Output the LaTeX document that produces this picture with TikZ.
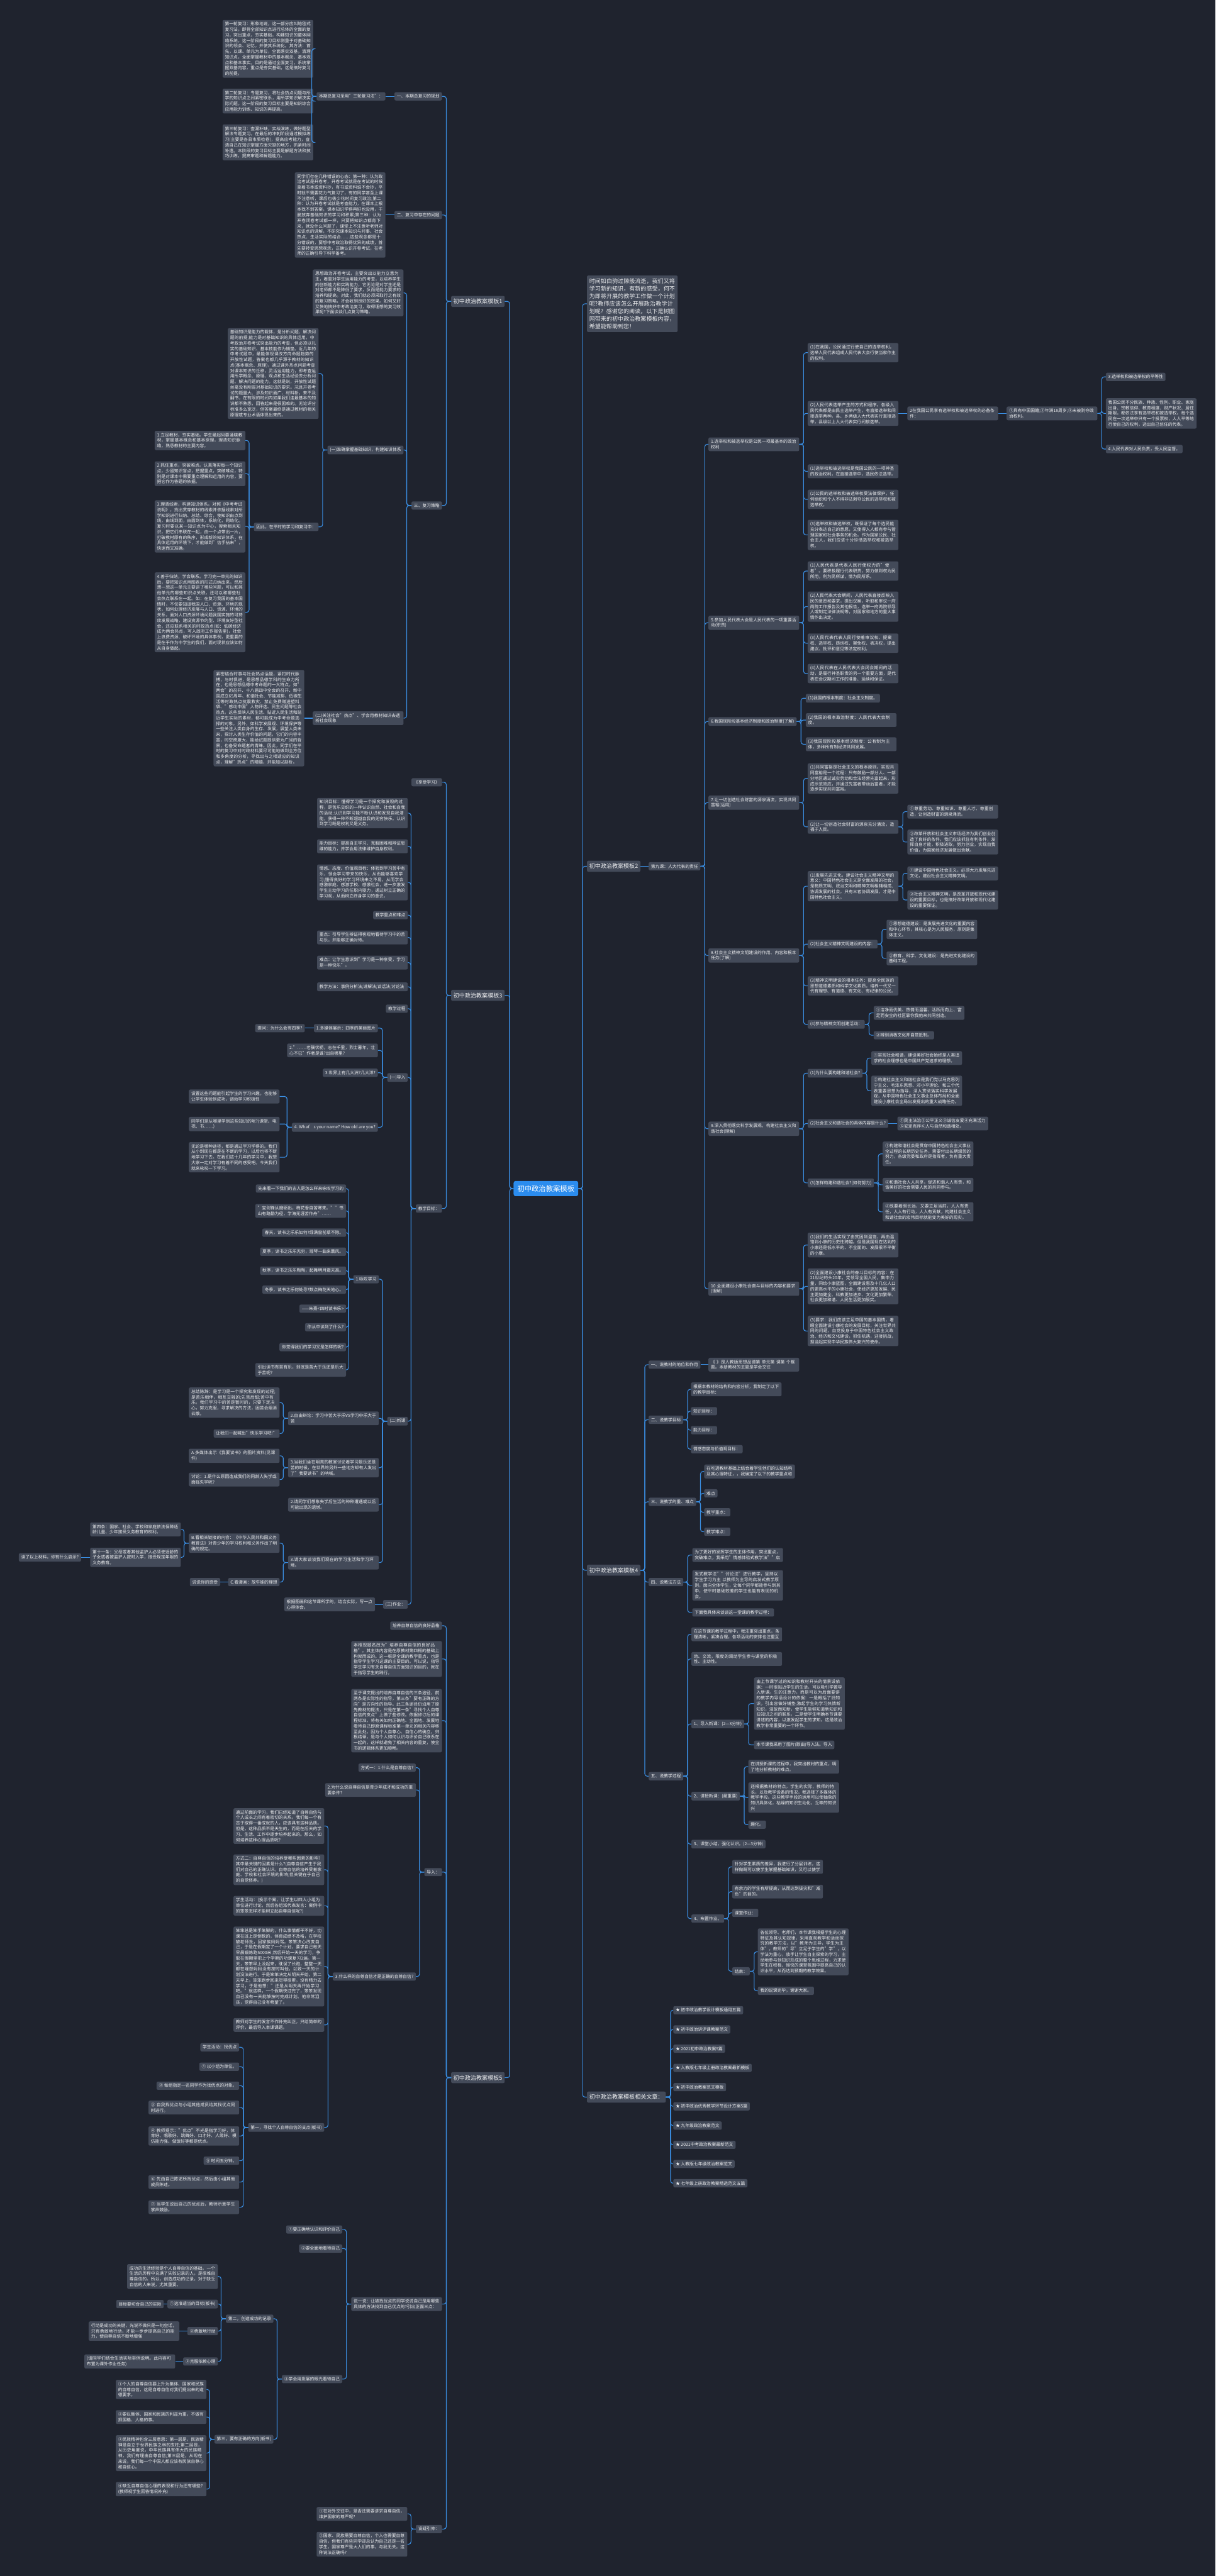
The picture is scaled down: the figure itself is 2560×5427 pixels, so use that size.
\documentclass[tikz,border=0pt]{standalone}
\usepackage{fontspec}
\setmainfont{Noto Sans CJK SC}
\XeTeXlinebreaklocale "zh"
\XeTeXlinebreakskip=0pt plus 1pt
\definecolor{bgc}{HTML}{1F232E}
\definecolor{boxc}{HTML}{434A59}
\definecolor{linkc}{HTML}{3A8EE2}
\definecolor{rootc}{HTML}{2B8CEE}
\definecolor{txtc}{HTML}{ECEDEF}
\begin{document}
\begin{tikzpicture}[x=1pt,y=-1pt,
    box/.style={fill=boxc, rounded corners=3pt, text=txtc,
      font=\fontsize{9}{11.6}\selectfont, inner xsep=5pt, inner ysep=4.5pt},
    para/.style={box, text width=181pt, align=left},
    big/.style={box, font=\fontsize{12}{16}\selectfont, inner ysep=6pt},
    root/.style={box, fill=rootc, text=white, font=\fontsize{15}{18}\selectfont,
      inner xsep=8pt, inner ysep=9pt, rounded corners=4pt},
    lnk/.style={draw=linkc, line width=1.5pt, rounded corners=5pt},
    L/.style={anchor=east}, R/.style={anchor=west}
  ]
\fill[bgc] (0,0) rectangle (2560,5427);
\useasboundingbox (0,0) rectangle (2560,5427);

\node[root,L] (root) at (1218,2504) {初中政治教案模板};
\node[big,R,text width=181pt,align=left] (intro) at (1236,640) {时间如白驹过隙般流逝，我们又将学习新的知识，有新的感受，何不为即将开展的教学工作做一个计划呢?教师应该怎么开展政治教学计划呢? 感谢您的阅读，以下是树图网带来的初中政治教案模板内容，希望能帮助到您！};
\node[big,R] (mB) at (1236,1825) {初中政治教案模板2};
\node[big,R] (mD) at (1236,3308) {初中政治教案模板4};
\node[big,R] (mF) at (1236,4418) {初中政治教案模板相关文章：};
\node[big,R] (mA) at (950,635) {初中政治教案模板1};
\node[big,R] (mC) at (950,2097) {初中政治教案模板3};
\node[big,R] (mE) at (950,4377) {初中政治教案模板5};

\node[box,L] (a1) at (931,203) {一、本期总复习的规划};
\node[box,L] (a1x) at (812,203) {本期总复习采用"三轮复习法"：};
\node[para,L] (a1x1) at (660,103) {第一轮复习：形象地说，这一部分应叫地毯式复习法，即将全部知识点进行总体的全面的复习，突出重点，夯实基础，构建知识的整体网络系统。这一阶段的复习目标侧重于对基础知识的领会、记忆，并使其系统化。其方法：首先，以课、单元为单位，全面落实双基，清理知识点，全面掌握教材中的基本概念、基本观点和基本事实。目的是通过全面复习，系统掌握双基内容，重点是夯实基础，这是搞好复习的前提。};
\node[para,L] (a1x2) at (660,213) {第二轮复习：专题复习，将社会热点问题与所学的知识点之间紧密联系，用所学知识解决实际问题。这一阶段的复习目标主要是知识综合应用能力训练、知识的再提高。};
\node[para,L] (a1x3) at (660,300) {第三轮复习：查漏补缺，实战演练，做好题型解法专题复习。在最后的冲刺阶段通过模拟练习(主要是各县市质检卷)，提高应考能力，查清自己在知识掌握方面欠缺的地方，抓紧时间补遗。本阶段的复习目标主要是解题方法和技巧训练，提高审题和解题能力。};
\node[box,L] (a2) at (931,453) {二、复习中存在的问题};
\node[para,L] (a2x) at (812,453) {同学们存在几种错误的心态：第一种：认为政治考试是开卷考，开卷考试就是在考试的时候拿着书本或资料抄，有书或资料谁不会抄，平时就不需要花力气复习了，有的同学甚至上课不注意听，课后也极少花时间复习政治;第二种：认为开卷考试就是考查能力，在课本上根本找不到答案，课本知识学得再好也没用，干脆放弃基础知识的学习和积累;第三种：认为开卷闭卷考试都一样，只要把知识点都背下来，就没什么问题了，课堂上不注意听老师对知识点的讲解，不研究课本知识与时事、社会热点、生活实际的结合……这些观念都是十分错误的，要想中考政治取得优异的成绩，首先要转变思想观念，正确认识开卷考试，在老师的正确引导下科学备考。};
\node[box,L] (a3) at (931,1065) {三、复习策略};
\node[para,L] (a3a) at (850,617) {思想政治开卷考试，主要突出以能力立意为主，着重对学生运用能力的考查，以培养学生的创新能力和实践能力，它无论是对学生还是对老师都不是降低了要求，反而是能力要求的培养和提高。对此，我们就必须采取行之有效的复习策略，才会收到良好的效果。如何又好又快地搞好中考政治复习，取得理想的复习效果呢?下面谈谈几点复习策略。};
\node[box,L] (a3b) at (850,948) {(一)准确掌握基础知识，构建知识体系};
\node[para,L] (a3b1) at (671,787) {基础知识是能力的载体，是分析问题、解决问题的前提;能力是对基础知识的具体运用。中考政治开卷考试突出能力的考查，但必须以扎实的基础知识、基本技能作为铺垫。近几年的中考试题中，最能体现课改方向命题趋势的开放性试题，答案也都几乎源于教材的知识点(基本概念、原理)，通过课外热点问题考查对课本知识的迁移，灵活运用能力，即考查运用所学概念、原理、观点和生活经验去分析问题、解决问题的能力。这就是说，开放性试题丝毫没有削弱对基础知识的要求。况且开卷考试的题量大、涉及知识面广、材料新，来不及翻书，在有限的时间内如果我们连最基本的知识都不熟悉，回答起来是很困难的。无论评分标准多么宽泛，但答案最终是通过教材的相关原理或专业术语体现出来的。};
\node[box,L] (a3b2) at (671,1110) {因此，在平时的学习和复习中：};
\node[para,L] (a3b2a) at (517,928) {1.立足教材，夯实基础。学生最起码要通晓教材，掌握基本概念和基本原理，理清知识脉络，熟悉教材的主要内容。};
\node[para,L] (a3b2b) at (517,998) {2.抓住重点，突破难点。认真落实每一个知识点，少留知识盲点，把握重点，突破难点，特别是对课本中需要重点理解和运用的内容，要把它作为答题的依据。};
\node[para,L] (a3b2c) at (517,1109) {3.理清线索，构建知识体系。对照《中考考试说明》，找出贯穿教材的线索并依据线索对所学知识进行归纳、总结、综合，使知识由点到线，由线到面，由面到体，系统化，网络化。复习时要以某一知识点为中心，搜索相关知识，把它们串联在一起，由一个点带出一片，打破教材原有的秩序，形成新的知识体系，在具体运用的环境下，才能做到"信手拈来"，快速而又准确。};
\node[para,L] (a3b2d) at (517,1290) {4.善于归纳，学会联系。学习完一单元的知识后，要把知识点用图表的形式归纳出来，然后想一想这一单元主要讲了哪些问题，可以和其他单元的哪些知识点关联，还可以和哪些社会热点联系在一起。如：在复习我国的基本国情时，不仅要知道我国人口、资源、环境的现状，如何处理经济发展与人口、资源、环境的关系，面对人口资源环境问题我国实施的可持续发展战略，建设资源节约型、环境友好型社会，还应联系相关的时政热点(如：低碳经济成为两会热点，写入政府工作报告里)，社会上浪费资源、破坏环境的具体事例，更重要的是在于作为中学生的我们，面对现状应该如何从自身做起。};
\node[para,L] (a3c) at (850,1513) {(二)关注社会"热点"、学会用教材知识去透析社会现象};
\node[para,L] (a3c1) at (641,1513) {紧密结合时事与社会热点话题，紧扣时代脉搏，与时俱进，是思想品德学科的生命力所在，也是思想品德中考命题的一大特点。如"两会"的召开、十八届四中全会的召开、新中国成立65周年、和谐社会、节能减排、低碳生活等时政热点抗震救灾、禁止免费赠送塑料袋、"感动中国"人物评选、民生问题等社会热点。这些反映人民生活、贴近人民生活和贴近学生实际的素材，都可能成为中考命题选择的对象。另外，如科学发展观、环境保护等一些关注人类自身的生存、发展，展望人类未来，探讨人类生存价值的问题，它们的内容丰富，时空跨度大，能给试题提供更为广阔的背景，也备受命题者的青睐。因此，同学们在平时的复习中对时政材料要尽可能地做到全方位和多角度的分析，寻找出与之相适应的知识点，理解"热点"的精髓，并能加以剖析。};

\node[box,L] (c1) at (931,1648) {《享受学习》};
\node[box,L] (c2) at (931,2546) {教学目标：};
\node[para,L] (c2a) at (859,1713) {知识目标：懂得学习是一个探究和发现的过程，是苦乐交织的一种认识自然、社会和自我的活动;认识到学习能不断认识和发现自我潜能，获得一种不断超越自我的无穷快乐。认识到学习既是权利又是义务。};
\node[para,L] (c2b) at (859,1783) {能力目标：提高自主学习、克服困难和辨证思维的能力，并学会用法律维护自身权利。};
\node[para,L] (c2c) at (859,1859) {情感、态度、价值观目标：体验到学习苦中有乐，领会学习带来的快乐，从而能够喜欢学习;懂得良好的学习环境来之不易，从而学会感激家庭、感激学校、感激社会，进一步激发学生主动学习的任职内驱力，通过树立正确的学习观，从而树立终身学习的意识。};
\node[box,L] (c2d) at (859,1928) {教学重点和难点};
\node[para,L] (c2e) at (859,1975) {重点：引导学生辨证得客观地看待学习中的苦与乐，并能够正确对待。};
\node[para,L] (c2f) at (859,2028) {难点：让学生意识到"学习是一种享受，学习是一种快乐"。};
\node[para,L] (c2g) at (859,2079) {教学方法：事例分析法;讲解法;谈话法;讨论法};
\node[box,L] (c2h) at (859,2125) {教学过程};
\node[box,L] (c2i) at (859,2270) {(一)导入};
\node[box,L] (c2i1) at (796,2166) {1.多媒体展示：四季的美丽图片};
\node[box,L] (c2i1a) at (642,2166) {提问：为什么会有四季?};
\node[para,L] (c2i2) at (796,2213) {2."……老骥伏枥，志在千里，烈士暮年，壮心不已"作者是谁?出自哪里?};
\node[box,L] (c2i3) at (796,2260) {3.世界上有几大洲?几大洋?};
\node[box,L] (c2i4) at (796,2375) {4. What’s your name? How old are you?};
\node[para,L] (c2i4a) at (589,2310) {设置这些问题能引起学生的学习兴趣，也能够让学生体验到成功，调动学习积极性};
\node[para,L] (c2i4b) at (589,2368) {同学们是从哪里学到这些知识的呢?(课堂、电视、书……)};
\node[para,L] (c2i4c) at (589,2438) {无论是哪种途径，都是通过学习学得的。我们从小到现在都是在不断的学习，以后也将不断地学习下去。在我们这十几年的学习中，我想大家一定对学习有着不同的感受吧。今天我们就来咏叹一下学习。};
\node[box,L] (c2j) at (859,2994) {(二)新课};
\node[box,L] (c2j1) at (798,2695) {1.咏叹学习};
\node[box,L] (w1) at (729,2504) {先来看一下我们的古人是怎么样来咏叹学习的};
\node[para,L] (w2) at (729,2551) {"宝剑锋从磨砺出，梅花香自苦寒来。""书山有路勤为径，学海无涯苦作舟"……};
\node[box,L] (w3) at (729,2597) {春天，读书之乐乐如何?绿满窗前草不除。};
\node[box,L] (w4) at (729,2637) {夏季，读书之乐乐无穷，瑶琴一曲来薰风。};
\node[box,L] (w5) at (729,2677) {秋季，读书之乐乐陶陶，起舞明月霜天高。};
\node[box,L] (w6) at (729,2717) {冬季，读书之乐何处寻?数点梅花天地心。};
\node[box,L] (w7) at (729,2757) {——朱熹<四时读书乐>};
\node[box,L] (w8) at (729,2796) {你从中读到了什么?};
\node[box,L] (w9) at (729,2838) {你觉得我们的学习又是怎样的呢?};
\node[para,L] (w10) at (729,2886) {引出读书有苦有乐，到底是苦大于乐还是乐大于苦呢?};
\node[para,L] (c2j2) at (798,2988) {2.自由辩论：学习中苦大于乐VS学习中乐大于苦};
\node[para,L] (c2j2a) at (589,2955) {总结陈辞：是学习是一个探究和发现的过程;是苦乐相伴，相互交融的;先苦后甜;苦中有乐。我们学习中的苦是暂时的，只要下定决心，努力克服，寻求解决的方法，困苦会烟消云散。};
\node[box,L] (c2j2b) at (589,3020) {让我们一起喊出"快乐学习吧!"};
\node[para,L] (c2j3) at (798,3092) {3.当我们坐在明亮的教室讨论着学习是乐还是苦的时候，在世界的另外一些地方却有人发出了"我要读书"的呐喊。};
\node[para,L] (c2j3a) at (589,3067) {A.多媒体出示《我要读书》的图片资料(见课件)};
\node[para,L] (c2j3b) at (589,3117) {讨论：1.是什么原因造成我们的同龄人失学或面临失学呢?};
\node[para,L] (c2j4) at (798,3170) {2.请同学们想象失学后生活的种种遭遇或以后可能出现的遗憾。};
\node[para,L] (c2j5) at (798,3292) {3.请大家谈谈我们现在的学习生活和学习环境。};
\node[para,L] (c2j5a) at (589,3251) {B.看相关链接的内容：《中华人民共和国义务教育法》对青少年的学习权利和义务作出了明确的规定。};
\node[para,L] (c2j5a1) at (381,3222) {第四条：国家、社会、学校和家庭依法保障适龄儿童、少年接受义务教育的权利。};
\node[para,L] (c2j5a2) at (381,3281) {第十一条：父母或者其他监护人必须使适龄的子女或者被监护人按时入学，接受规定年限的义务教育。};
\node[box,L] (c2j5a2x) at (171,3281) {读了以上材料，你有什么启示?};
\node[box,L] (c2j5b) at (589,3333) {C.看漫画：放牛娃的理想};
\node[box,L] (c2j5b1) at (464,3333) {说说你的感受};
\node[box,L] (c2k) at (859,3380) {(三)作业：};
\node[para,L] (c2k1) at (790,3380) {根据图画和这节课所学的，结合实际，写一点心得体会。};

\node[box,L] (e1) at (931,3425) {培养自尊自信的良好品格};
\node[para,L] (e2) at (931,3495) {本框现题名改为"培养自尊自信的良好品格"。其主体内容是在原教材第四框的基础上构架而成的。这一框是全课的教学重点，也是指导学生学习这课的主要目的。可以说，指导学生学习有关自尊自信方面知识的目的，就在于指导学生的践行。};
\node[para,L] (e3) at (931,3625) {至于课文提出的培养自尊自信的三条途径，前两条是实际性的指导，第三条"要有正确的方向"是方向性的指导。此三条途径仍沿用了原先教材的提法，只是在第一条"寻找个人自尊自信的支点"上做了些修改。依据修订后的课程标准，将有关如何正确地、全面地、发展地看待自己即原课程标准第一单元的相关内容移至此处。因为个人自尊心、自信心的确立，归根结蒂，是与个人如何认识与评价自己联系在一起的，这样就避免了相关内容的重复，使全书的逻辑体系更加顺畅。};
\node[box,L] (e4) at (931,3944) {导入：};
\node[box,L] (e4a) at (876,3724) {方式一：1.什么是自尊自信?};
\node[para,L] (e4b) at (876,3771) {2.为什么说自尊自信是青少年成才和成功的重要条件?};
\node[box,L] (e4c) at (876,4164) {3.什么样的自尊自信才是正确的自尊自信?};
\node[para,L] (e4c1) at (683,3847) {通过前面的学习，我们已经知道了自尊自信与个人成长之间有着密切的关系。我们每一个有志于取得一番成就的人，应该具有这种品质。但是，这种品质不是天生的，而是在后天的学习、生活、工作中逐步培养起来的。那么，如何培养这种心理品质呢?};
\node[para,L] (e4c2) at (683,3939) {方式二：自尊自信的培养受哪些因素的影响?其中最关键的因素是什么?(自尊自信产生于我们对自己的正确认识。自尊自信的培养受着家庭、学校和社会环境的影响;但关键在于自己的自觉修养。)};
\node[para,L] (e4c3) at (683,4015) {学生活动：(投示个案，让学生以四人小组为单位进行讨论，然后各组派代表发言：案例中的笨笨怎样才能树立起自尊自信呢?)};
\node[para,L] (e4c4) at (683,4143) {笨笨总是笨手笨脚的，什么事情都干不好，功课在班上是倒数的，体育成绩不及格，在学校被老师批，回家挨妈妈骂。笨笨决心改变自己，于是在假期定了一个计划，要求自己每天早晨锻炼跑5000米;然后开始一天的学习，争取在假期里把上个学期的功课复习3遍。第一天，笨笨早上没起来，耽误了长跑，整整一天都在埋怨妈妈没有按时叫他，以致一天的计划没法进行。于是笨笨决定从明天开始。第二天早上，笨笨跑步回来觉得很累，没有精力去学习，于是他想："还是从明天再开始学习吧。"就这样，一个假期快过完了，笨笨发现自己没有一天能够按时完成计划。他非常沮丧，觉得自己没有希望了。};
\node[para,L] (e4c5) at (683,4266) {教师对学生的发言不作补充纠正，只给简单的评价，最后导入本课课题。};
\node[box,L] (e4c6) at (683,4482) {第一，寻找个人自尊自信的支点(板书)};
\node[box,L] (g1) at (504,4313) {学生活动：找优点};
\node[box,L] (g2) at (504,4354) {① 以小组为单位。};
\node[box,L] (g3) at (504,4394) {② 每组指定一名同学作为找优点的对象。};
\node[para,L] (g4) at (504,4440) {③ 自我找优点与小组其他成员给其找优点同时进行。};
\node[para,L] (g5) at (504,4500) {④ 教师提示："优点"不光是指学习好，体育好、唱歌好、跳舞好、口才好、人缘好、模仿能力强、做饭好等都是优点。};
\node[box,L] (g6) at (504,4552) {⑤ 时间五分钟。};
\node[para,L] (g7) at (504,4597) {⑥ 先由自己陈述所找优点，然后由小组其他成员陈述。};
\node[para,L] (g8) at (504,4650) {⑦ 当学生说出自己的优点后，教师示意学生掌声鼓励。};
\node[para,L] (e5) at (931,4854) {说一说：让被找优点的同学说说自己是用哪些具体的方法找到自己优点的?引出正面三点：};
\node[box,L] (e5a) at (721,4697) {①要正确地认识和评价自己};
\node[box,L] (e5b) at (721,4737) {②要全面地看待自己};
\node[box,L] (e5c) at (721,5012) {③学会用发展的眼光看待自己};
\node[box,L] (e5c1) at (576,4885) {第二，创造成功的记录};
\node[para,L] (e5c1a) at (459,4796) {成功的生活经验是个人自尊自信的基础。一个生活的历程中充满了失败记录的人，是很难自尊自信的。所以，创造成功的记录，对于缺乏自信的人来说，尤其重要。};
\node[box,L] (e5c1b) at (459,4854) {①选准适当的目标(板书)};
\node[box,L] (e5c1bx) at (345,4854) {目标要切合自己的实际};
\node[box,L] (e5c1c) at (459,4911) {②勇敢地行动};
\node[para,L] (e5c1cx) at (378,4911) {行动是成功的关键，光说不做只是一句空话，只有勇敢地行动，才能一步步提高自己的能力，使自尊自信不断地增强};
\node[box,L] (e5c1d) at (459,4975) {③克服依赖心理};
\node[para,L] (e5c1dx) at (369,4975) {(请同学们结合生活实际举例说明。此内容可布置为课外作业任务)};
\node[box,L] (e5c2) at (576,5139) {第三，要有正确的方向(板书)};
\node[para,L] (e5c2a) at (435,5034) {①个人的自尊自信要上升为集体、国家和民族的自尊自信，这是自尊自信对我们提出来的道德要求。};
\node[para,L] (e5c2b) at (435,5092) {②要以集体、国家和民族的利益为重，不做有损国格、人格的事。};
\node[para,L] (e5c2c) at (435,5168) {③民族精神包含三层意思：第一层是，民族精神是自立于世界民族之林的支柱;第二层是，从历史角度说，中华民族具有伟大的民族精神，我们有理由自尊自信;第三层是，从现在来说，我们每一个中国人都应该有民族自尊心和自信心。};
\node[para,L] (e5c2d) at (435,5244) {④缺乏自尊自信心理的表现和行为还有哪些?(教师视学生回答情况补充)};
\node[box,L] (e6) at (931,5328) {设疑引伸：};
\node[para,L] (e6a) at (858,5296) {①在对外交往中，是否还需要讲求自尊自信，维护国家的尊严呢?};
\node[para,L] (e6b) at (858,5360) {②国家、民族需要自尊自信，个人也需要自尊自信，但我们有些同学却总认为自己还是一名学生，国家尊严是大人们的事，与我无关。这种说法正确吗?};

\node[box,R] (b0) at (1366,1825) {第九课：人大代表的责任};
\node[para,R] (b1) at (1492,936) {1.选举权和被选举权是公民一项最基本的政治权利};
\node[para,R] (b1a) at (1701,743) {(1)在我国，公民通过行使自己的选举权利，选举人民代表组成人民代表大会行使当家作主的权利。};
\node[para,R] (b1b) at (1701,871) {(2)人民代表选举产生的方式和程序。各级人民代表都是由民主选举产生，有直接选举和间接选举两种。县、乡两级人大代表实行直接选举，县级以上人大代表实行间接选举。};
\node[para,R] (b1bx) at (1911,871) {2在我国公民享有选举权和被选举权的必备条件：};
\node[para,R] (b1by) at (2120,871) {①具有中国国籍;②年满18周岁;③未被剥夺政治权利。};
\node[box,R] (b1by1) at (2329,794) {3.选举权和被选举权的平等性};
\node[para,R] (b1by2) at (2329,871) {我国公民不分民族、种族、性别、职业、家庭出身、宗教信仰、教育程度、财产状况、居住期限，都依法享有选举权和被选举权。每个选民在一次选举中只有一个投票权，人人平等地行使自己的权利，选出自己信任的代表。};
\node[box,R] (b1by3) at (2329,946) {4.人民代表对人民负责，受人民监督。};
\node[para,R] (b1c) at (1701,993) {(1)选举权和被选举权是我国公民的一项神圣的政治权利，在直接选举中，选民依法选举。};
\node[para,R] (b1d) at (1701,1052) {(2)公民的选举权和被选举权受法律保护，任何组织和个人不得非法剥夺公民的选举权和被选举权。};
\node[para,R] (b1e) at (1701,1127) {(3)选举权和被选举权，既保证了每个选民能充分表达自己的意愿，又使得人人都有参与管理国家和社会事务的机会。作为国家公民、社会主人，我们应该十分珍惜选举权和被选举权。};
\node[para,R] (b2) at (1492,1312) {5.参加人民代表大会是人民代表的一项重要活动(职责)};
\node[para,R] (b2a) at (1701,1203) {(1)人民代表是代表人民行使权力的"使者"。要积极履行代表职责，努力做到权为民所用，利为民所谋，情为民所系。};
\node[para,R] (b2b) at (1701,1278) {(2)人民代表大会期间，人民代表直接反映人民的意愿和要求，提出议案，听取和审议一府两院工作报告及其他报告，选举一府两院领导人或制定法律法规等，对国家和地方的重大事情作出决定。};
\node[para,R] (b2c) at (1701,1355) {(3)人民代表代表人民行使着审议权、提案权、选举权、质询权、罢免权、表决权，提出建议、批评和意见等法定权利。};
\node[para,R] (b2d) at (1701,1419) {(4)人民代表在人民代表大会闭会期间的活动，是履行神圣职责的另一个重要方面，是代表在会议期间工作的准备、延续和保证。};
\node[box,R] (b3) at (1492,1520) {6.我国现阶段基本经济制度和政治制度(了解)};
\node[box,R] (b3a) at (1697,1471) {(1)我国的根本制度：社会主义制度。};
\node[para,R] (b3b) at (1697,1517) {(2)我国的根本政治制度：人民代表大会制度。};
\node[para,R] (b3c) at (1697,1568) {(3)我国现阶段基本经济制度：公有制为主体，多种所有制经济共同发展。};
\node[para,R] (b4) at (1492,1691) {7.让一切创造社会财富的源泉涌流，实现共同富裕(运用)};
\node[para,R] (b4a) at (1701,1640) {(1)共同富裕是社会主义的根本原则。实现共同富裕是一个过程：只有鼓励一部分人、一部分地区通过诚实劳动和合法经营先富起来，形成示范效应，并通过先富者带动后富者，才能逐步实现共同富裕。};
\node[para,R] (b4b) at (1701,1742) {(2)让一切创造社会财富的源泉充分涌流，造福于人民。};
\node[para,R] (b4b1) at (1911,1710) {①尊重劳动、尊重知识、尊重人才、尊重创造，让创造财富的源泉涌流。};
\node[para,R] (b4b2) at (1911,1774) {②改革开放和社会主义市场经济为我们创业创造了良好的条件。我们应该抓住有利条件，发挥自身才能，积极进取，努力创业，实现自我价值，为国家经济发展做出贡献。};
\node[para,R] (b5) at (1492,2013) {8.社会主义精神文明建设的作用、内容和根本任务(了解)};
\node[para,R] (b5a) at (1701,1867) {(1)发展先进文化，建设社会主义精神文明的意义：中国特色社会主义是全面发展的社会，是物质文明、政治文明和精神文明相辅相成、协调发展的社会。只有三者协调发展，才是中国特色社会主义。};
\node[para,R] (b5a1) at (1911,1840) {①建设中国特色社会主义，必须大力发展先进文化，建设社会主义精神文明。};
\node[para,R] (b5a2) at (1911,1896) {②社会主义精神文明，是改革开放和现代化建设的重要目标，也是搞好改革开放和现代化建设的重要保证。};
\node[box,R] (b5b) at (1701,1989) {(2)社会主义精神文明建设的内容：};
\node[para,R] (b5b1) at (1867,1958) {①思想道德建设：是发展先进文化的重要内容和中心环节，其核心是为人民服务，原则是集体主义。};
\node[para,R] (b5b2) at (1867,2019) {②教育、科学、文化建设：是先进文化建设的基础工程。};
\node[para,R] (b5c) at (1701,2077) {(3)精神文明建设的根本任务：提高全民族的思想道德素质和科学文化素质，培养一代又一代有理想、有道德、有文化、有纪律的公民。};
\node[box,R] (b5d) at (1701,2158) {(4)参与精神文明创建活动：};
\node[para,R] (b5d1) at (1840,2134) {①洁净而优美、热情而温馨、活跃而向上、富足而安全的社区靠你我他来共同创造。};
\node[box,R] (b5d2) at (1840,2181) {②辨别消极文化并自觉抵制。};
\node[para,R] (b6) at (1492,2378) {9.深入贯彻落实科学发展观，构建社会主义和谐社会(理解)};
\node[box,R] (b6a) at (1701,2261) {(1)为什么要构建和谐社会?};
\node[para,R] (b6a1) at (1835,2229) {①实现社会和谐，建设美好社会始终是人类追求的社会理想也是中国共产党追求的理想。};
\node[para,R] (b6a2) at (1835,2298) {②构建社会主义和谐社会是我们党以马克思列宁主义、毛泽东思想、邓小平理论、和三个代表重要思想为指导，深入贯彻落实科学发展观，从中国特色社会主义事业总体布局和全面建设小康社会全局出发提出的重大战略任务。};
\node[box,R] (b6b) at (1701,2367) {(2)社会主义和谐社会的具体内容是什么?};
\node[para,R] (b6b1) at (1890,2367) {①民主法治②公平正义③诚信友爱④充满活力⑤安定有序⑥人与自然和谐相处。};
\node[box,R] (b6c) at (1701,2492) {(3)怎样构建和谐社会?(如何努力)};
\node[para,R] (b6c1) at (1859,2431) {①构建和谐社会是贯穿中国特色社会主义事业全过程的长期历史任务，需要付出长期艰苦的努力，各级党委和政府是指挥者，负有重大责任。};
\node[para,R] (b6c2) at (1859,2496) {②和谐社会人人共享，促进和谐人人有责，和谐美好的社会需要人民的共同参与。};
\node[para,R] (b6c3) at (1859,2553) {③既要着眼长远，又要立足当前，人人有责任，人人有行动，人人有贡献，构建社会主义和谐社会的宏伟目标就能变为美好的现实。};
\node[para,R] (b7) at (1492,2715) {10.全面建设小康社会奋斗目标的内容和要求(理解)};
\node[para,R] (b7a) at (1701,2623) {(1)我们的生活实现了由贫困到温饱、再由温饱到小康的历史性跨越。但是我国现在达到的小康还是低水平的、不全面的、发展很不平衡的小康。};
\node[para,R] (b7b) at (1701,2710) {(2)全面建设小康社会的奋斗目标的内容：在21世纪的头20年，党领导全国人民，集中力量，同绘小康蓝图，全面建设惠及十几亿人口的更高水平的小康社会，使经济更加发展、民主更加健全、科教更加进步、文化更加繁荣、社会更加和谐、人民生活更加殷实。};
\node[para,R] (b7c) at (1701,2804) {(3)要求：我们应该立足中国的基本国情，着眼全面建设小康社会的发展目标，关注世界共同的问题，自觉投身于中国特色社会主义政治、经济和文化建设，抓住机遇，迎接挑战，担当起实现中华民族伟大复兴的使命。};

\node[box,R] (d1) at (1366,2875) {一、说教材的地位和作用};
\node[para,R] (d1a) at (1492,2875) {《 》是人教版思想品德第 单元第 课第 个框题。本册教材的主题是学会交往};
\node[box,R] (d2) at (1366,2991) {二、说教学目标};
\node[para,R] (d2a) at (1455,2927) {根据本教材的结构和内容分析，我制定了以下的教学目标：};
\node[box,R] (d2b) at (1455,2973) {知识目标：};
\node[box,R] (d2c) at (1455,3013) {能力目标：};
\node[box,R] (d2d) at (1455,3053) {情感态度与价值观目标：};
\node[box,R] (d3) at (1366,3164) {三、说教学的重、难点};
\node[para,R] (d3a) at (1483,3100) {在吃透教材基础上结合着学生他们的认知结构及其心理特征，，我确定了以下的教学重点和};
\node[box,R] (d3b) at (1483,3146) {难点};
\node[box,R] (d3c) at (1483,3186) {教学重点：};
\node[box,R] (d3d) at (1483,3227) {教学难点：};
\node[box,R] (d4) at (1366,3333) {四、说教法方法};
\node[para,R] (d4a) at (1458,3276) {为了更好的发挥学生的主体作用，突出重点，突破难点，我采用"情感体验式教学法""启};
\node[para,R] (d4b) at (1458,3340) {发式教学法""讨论法"进行教学，坚持以学生学习为主 以教师为主导的启发式教学原则，面向全体学生，让每个同学都能参与到其中，使平时基础较差的学生也能有表现的机会。};
\node[box,R] (d4c) at (1458,3397) {下面我具体来谈谈这一堂课的教学过程：};
\node[box,R] (d5) at (1366,3742) {五、说教学过程};
\node[para,R] (d5a) at (1456,3443) {在这节课的教学过程中，我注重突出重点，条理清晰，紧凑合理。各项活动的安排也注重互};
\node[para,R] (d5b) at (1456,3495) {动、交流，限度的调动学生参与课堂的积极性、主动性。};
\node[box,R] (d5c) at (1456,3632) {1、导入新课：(2—3分钟)};
\node[para,R] (d5c1) at (1588,3589) {由上节课学过的知识和教材开头的情景设依据：一时很贴近学生的生活，可以吸引学置导入新课。生的注意力，而是可以为后面要讲的教学内导语设计的依据：一是概括了旧知识，引出容做好铺垫;激起学生的学习热情新知识，温故而知新，使学生能够知道新知识和旧知识之间的联系。二是使学生明确本节课要讲述的内容，以激发起学生的求知。这是政治教学非常重要的一个环节。};
\node[box,R] (d5c2) at (1588,3676) {本节课我采用了图片(歌曲)导入法。导入};
\node[box,R] (d5d) at (1456,3784) {2、讲授新课：(最重要)};
\node[para,R] (d5d1) at (1576,3722) {在讲授新课的过程中，我突出教材的重点，明了地分析教材的难点。};
\node[para,R] (d5d2) at (1576,3787) {还根据教材的特点，学生的实际，教师的特长，以及教学设备的情况，我选择了多媒体的教学手段。这些教学手段的运用可以使抽象的知识具体化，枯燥的知识生动化，乏味的知识兴};
\node[box,R] (d5d3) at (1576,3844) {趣化。};
\node[box,R] (d5e) at (1456,3885) {3、课堂小结，强化认识。(2—3分钟)};
\node[box,R] (d5f) at (1456,4042) {4、布置作业。};
\node[para,R] (d5f1) at (1542,3933) {针对学生素质的差异，我进行了分层训练，这样做既可以使学生掌握基础知识，又可以使学};
\node[para,R] (d5f2) at (1542,3985) {有余力的学生有所提高，从而达到拔尖和"减负"的目的。};
\node[box,R] (d5f3) at (1542,4030) {课堂作业：};
\node[box,R] (d5f4) at (1542,4153) {结束：};
\node[para,R] (d5f4a) at (1596,4112) {各位领导、老师们，本节课我根据学生的心理特征及其认知规律，采用直观教学和活动探究的教学方法，以"教师为主导，学生为主体"，教师的"导"立足于学生的"学"，以学法为重心，放手让学生自主探索的学习，主动地参与到知识形成的整个思维过程，力求使学生在积极、愉快的课堂氛围中提高自己的认识水平，从而达到预期的教学效果。};
\node[box,R] (d5f4b) at (1596,4194) {我的说课完毕，谢谢大家。};

\foreach \t [count=\i] in {★ 初中政治教学设计模板通用五篇, ★ 初中政治讲评课教案范文, ★ 2021初中政治教案5篇, ★ 人教版七年级上册政治教案最新模板, ★ 初中政治教案范文模板, ★ 初中政治优秀教学环节设计方案5篇, ★ 九年级政治教案范文, ★ 2021中考政治教案最新范文, ★ 人教版七年级政治教案范文, ★ 七年级上册政治教案精选范文五篇}
  \node[box,R] (f\i) at (1418,{4194.5+40.5*\i}) {\t};

\foreach \c in {mA,mC,mE} \draw[lnk] (root.west) -- ++(-8,0) |- (\c.east);
\foreach \c in {intro,mB,mD,mF} \draw[lnk] (root.east) -- ++(9,0) |- (\c.west);

\foreach \c in {a1,a2,a3} \draw[lnk] (mA.west) -- ++(-10,0) |- (\c.east);
\draw[lnk] (a1.west) -- (a1x.east);
\foreach \c in {a1x1,a1x2,a1x3} \draw[lnk] (a1x.west) -- ++(-10,0) |- (\c.east);
\draw[lnk] (a2.west) -- (a2x.east);
\foreach \c in {a3a,a3b,a3c} \draw[lnk] (a3.west) -- ++(-10,0) |- (\c.east);
\foreach \c in {a3b1,a3b2} \draw[lnk] (a3b.west) -- ++(-10,0) |- (\c.east);
\foreach \c in {a3b2a,a3b2b,a3b2c,a3b2d} \draw[lnk] (a3b2.west) -- ++(-10,0) |- (\c.east);
\draw[lnk] (a3c.west) -- (a3c1.east);

\foreach \c in {c1,c2} \draw[lnk] (mC.west) -- ++(-10,0) |- (\c.east);
\foreach \c in {c2a,c2b,c2c,c2d,c2e,c2f,c2g,c2h,c2i,c2j,c2k} \draw[lnk] (c2.west) -- ++(-10,0) |- (\c.east);
\foreach \c in {c2i1,c2i2,c2i3,c2i4} \draw[lnk] (c2i.west) -- ++(-10,0) |- (\c.east);
\draw[lnk] (c2i1.west) -- (c2i1a.east);
\foreach \c in {c2i4a,c2i4b,c2i4c} \draw[lnk] (c2i4.west) -- ++(-10,0) |- (\c.east);
\foreach \c in {c2j1,c2j2,c2j3,c2j4,c2j5} \draw[lnk] (c2j.west) -- ++(-10,0) |- (\c.east);
\foreach \c in {w1,w2,w3,w4,w5,w6,w7,w8,w9,w10} \draw[lnk] (c2j1.west) -- ++(-10,0) |- (\c.east);
\foreach \c in {c2j2a,c2j2b} \draw[lnk] (c2j2.west) -- ++(-10,0) |- (\c.east);
\foreach \c in {c2j3a,c2j3b} \draw[lnk] (c2j3.west) -- ++(-10,0) |- (\c.east);
\foreach \c in {c2j5a,c2j5b} \draw[lnk] (c2j5.west) -- ++(-10,0) |- (\c.east);
\foreach \c in {c2j5a1,c2j5a2} \draw[lnk] (c2j5a.west) -- ++(-10,0) |- (\c.east);
\draw[lnk] (c2j5a2.west) -- (c2j5a2x.east);
\draw[lnk] (c2j5b.west) -- (c2j5b1.east);
\draw[lnk] (c2k.west) -- (c2k1.east);

\foreach \c in {e1,e2,e3,e4,e5,e6} \draw[lnk] (mE.west) -- ++(-10,0) |- (\c.east);
\foreach \c in {e4a,e4b,e4c} \draw[lnk] (e4.west) -- ++(-10,0) |- (\c.east);
\foreach \c in {e4c1,e4c2,e4c3,e4c4,e4c5,e4c6} \draw[lnk] (e4c.west) -- ++(-10,0) |- (\c.east);
\foreach \c in {g1,g2,g3,g4,g5,g6,g7,g8} \draw[lnk] (e4c6.west) -- ++(-10,0) |- (\c.east);
\foreach \c in {e5a,e5b,e5c} \draw[lnk] (e5.west) -- ++(-10,0) |- (\c.east);
\foreach \c in {e5c1,e5c2} \draw[lnk] (e5c.west) -- ++(-10,0) |- (\c.east);
\foreach \c in {e5c1a,e5c1b,e5c1c,e5c1d} \draw[lnk] (e5c1.west) -- ++(-10,0) |- (\c.east);
\draw[lnk] (e5c1b.west) -- (e5c1bx.east);
\draw[lnk] (e5c1c.west) -- (e5c1cx.east);
\draw[lnk] (e5c1d.west) -- (e5c1dx.east);
\foreach \c in {e5c2a,e5c2b,e5c2c,e5c2d} \draw[lnk] (e5c2.west) -- ++(-10,0) |- (\c.east);
\foreach \c in {e6a,e6b} \draw[lnk] (e6.west) -- ++(-10,0) |- (\c.east);

\draw[lnk] (mB.east) -- (b0.west);
\foreach \c in {b1,b2,b3,b4,b5,b6,b7} \draw[lnk] (b0.east) -- ++(9,0) |- (\c.west);
\foreach \c in {b1a,b1b,b1c,b1d,b1e} \draw[lnk] (b1.east) -- ++(9,0) |- (\c.west);
\draw[lnk] (b1b.east) -- (b1bx.west);
\draw[lnk] (b1bx.east) -- (b1by.west);
\foreach \c in {b1by1,b1by2,b1by3} \draw[lnk] (b1by.east) -- ++(9,0) |- (\c.west);
\foreach \c in {b2a,b2b,b2c,b2d} \draw[lnk] (b2.east) -- ++(9,0) |- (\c.west);
\foreach \c in {b3a,b3b,b3c} \draw[lnk] (b3.east) -- ++(9,0) |- (\c.west);
\foreach \c in {b4a,b4b} \draw[lnk] (b4.east) -- ++(9,0) |- (\c.west);
\foreach \c in {b4b1,b4b2} \draw[lnk] (b4b.east) -- ++(9,0) |- (\c.west);
\foreach \c in {b5a,b5b,b5c,b5d} \draw[lnk] (b5.east) -- ++(9,0) |- (\c.west);
\foreach \c in {b5a1,b5a2} \draw[lnk] (b5a.east) -- ++(9,0) |- (\c.west);
\foreach \c in {b5b1,b5b2} \draw[lnk] (b5b.east) -- ++(9,0) |- (\c.west);
\foreach \c in {b5d1,b5d2} \draw[lnk] (b5d.east) -- ++(9,0) |- (\c.west);
\foreach \c in {b6a,b6b,b6c} \draw[lnk] (b6.east) -- ++(9,0) |- (\c.west);
\foreach \c in {b6a1,b6a2} \draw[lnk] (b6a.east) -- ++(9,0) |- (\c.west);
\draw[lnk] (b6b.east) -- (b6b1.west);
\foreach \c in {b6c1,b6c2,b6c3} \draw[lnk] (b6c.east) -- ++(9,0) |- (\c.west);
\foreach \c in {b7a,b7b,b7c} \draw[lnk] (b7.east) -- ++(9,0) |- (\c.west);

\foreach \c in {d1,d2,d3,d4,d5} \draw[lnk] (mD.east) -- ++(9,0) |- (\c.west);
\draw[lnk] (d1.east) -- (d1a.west);
\foreach \c in {d2a,d2b,d2c,d2d} \draw[lnk] (d2.east) -- ++(9,0) |- (\c.west);
\foreach \c in {d3a,d3b,d3c,d3d} \draw[lnk] (d3.east) -- ++(9,0) |- (\c.west);
\foreach \c in {d4a,d4b,d4c} \draw[lnk] (d4.east) -- ++(9,0) |- (\c.west);
\foreach \c in {d5a,d5b,d5c,d5d,d5e,d5f} \draw[lnk] (d5.east) -- ++(9,0) |- (\c.west);
\foreach \c in {d5c1,d5c2} \draw[lnk] (d5c.east) -- ++(9,0) |- (\c.west);
\foreach \c in {d5d1,d5d2,d5d3} \draw[lnk] (d5d.east) -- ++(9,0) |- (\c.west);
\foreach \c in {d5f1,d5f2,d5f3,d5f4} \draw[lnk] (d5f.east) -- ++(9,0) |- (\c.west);
\foreach \c in {d5f4a,d5f4b} \draw[lnk] (d5f4.east) -- ++(9,0) |- (\c.west);
\foreach \i in {1,...,10} \draw[lnk] (mF.east) -- ++(10,0) |- (f\i.west);
\end{tikzpicture}
\end{document}
